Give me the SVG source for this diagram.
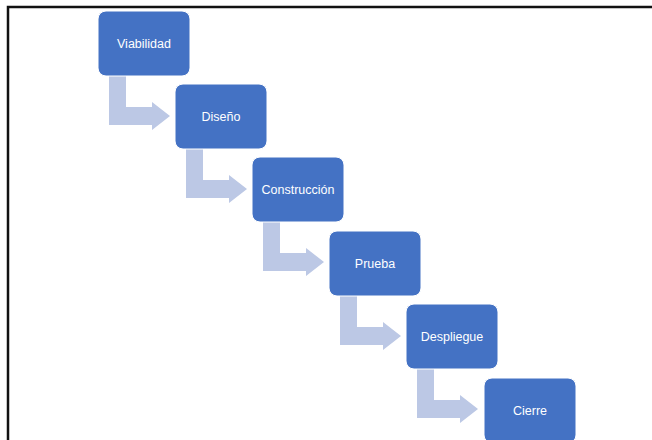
<svg xmlns="http://www.w3.org/2000/svg" width="652" height="440" viewBox="0 0 652 440">
  <style>
    .box { fill: #4472C4; stroke: #ffffff; stroke-width: 1; }
    .lbl { fill: #ffffff; font-family: "Liberation Sans", Arial, sans-serif; font-size: 12.5px; text-anchor: middle; }
    .arrow { fill: #BCC8E5; }
    .frame { stroke: #111111; stroke-width: 2.5; fill: none; }
  </style>

  <!-- page frame (left and top edges) -->
  <path class="frame" d="M8,440 V7 H652"/>

  <!-- bent arrows: each drops from a box, then turns right toward the next one -->
  <g id="connectors">
    <path class="arrow" d="M109,76 H126 V107 H152 V102 L170,116 L152,130 V125 H109 Z"/>
    <path class="arrow" d="M186,149 H203 V180 H229 V175 L247,189 L229,203 V198 H186 Z"/>
    <path class="arrow" d="M263,222 H280 V253 H306 V248 L324,262 L306,276 V271 H263 Z"/>
    <path class="arrow" d="M340,296 H357 V327 H383 V322 L401,336 L383,350 V345 H340 Z"/>
    <path class="arrow" d="M417,369 H434 V400 H460 V395 L478,409 L460,423 V418 H417 Z"/>
  </g>

  <g id="viabilidad">
    <rect class="box" x="98" y="11" width="92" height="65" rx="8"/>
    <text class="lbl" x="144" y="48">Viabilidad</text>
  </g>
  <g id="diseno">
    <rect class="box" x="175" y="84" width="92" height="65" rx="8"/>
    <text class="lbl" x="221" y="121">Diseño</text>
  </g>
  <g id="construccion">
    <rect class="box" x="252" y="157" width="92" height="65" rx="8"/>
    <text class="lbl" x="298" y="194">Construcción</text>
  </g>
  <g id="prueba">
    <rect class="box" x="329" y="231" width="92" height="65" rx="8"/>
    <text class="lbl" x="375" y="268">Prueba</text>
  </g>
  <g id="despliegue">
    <rect class="box" x="406" y="304" width="92" height="65" rx="8"/>
    <text class="lbl" x="452" y="341">Despliegue</text>
  </g>
  <g id="cierre">
    <rect class="box" x="484" y="378" width="92" height="65" rx="8"/>
    <text class="lbl" x="530" y="415">Cierre</text>
  </g>
</svg>
